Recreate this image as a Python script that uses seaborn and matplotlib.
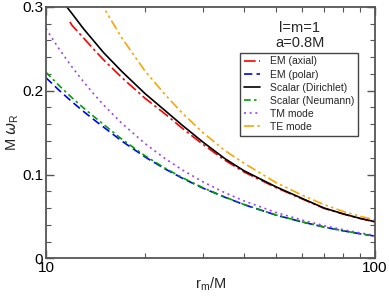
import matplotlib
matplotlib.use("Agg")
import matplotlib.pyplot as plt
import matplotlib.ticker as mticker
import seaborn as sns
import pandas as pd
import numpy as np

# r_m/M grid
r_m = [10, 11, 12, 13, 14, 15, 17, 20, 23, 26, 30, 35, 40, 50, 60, 70, 80, 90, 100]

# M omega_R
em_axial_r = [11.83, 12, 13, 14, 15, 17, 20, 23, 26, 30, 35, 40, 50, 60, 70, 80, 90, 100]
em_axial = [0.282, 0.278, 0.263, 0.249, 0.2365, 0.2157, 0.191, 0.1724, 0.155, 0.136, 0.117,
            0.103, 0.0845, 0.0710, 0.0597, 0.0529, 0.0476, 0.0436]
em_polar = [0.2155, 0.2000, 0.1868, 0.1753, 0.1653, 0.1563, 0.1400, 0.1210, 0.1068, 0.0955,
            0.0838, 0.0729, 0.0641, 0.0517, 0.0435, 0.0374, 0.0329, 0.0294, 0.0266]
scalar_dir = [0.334, 0.311, 0.292, 0.274, 0.259, 0.245, 0.223, 0.1966, 0.1764, 0.1586,
              0.1387, 0.1189, 0.1045, 0.0854, 0.0716, 0.0601, 0.0532, 0.0478, 0.0438]
scalar_neu = [0.222, 0.2056, 0.1916, 0.1795, 0.169, 0.1595, 0.1422, 0.1224, 0.1077, 0.0962,
              0.0843, 0.0732, 0.0643, 0.0518, 0.0436, 0.0375, 0.0330, 0.0295, 0.0267]
tm_mode = [0.274, 0.249, 0.2283, 0.2108, 0.1957, 0.1827, 0.1612, 0.137, 0.1191, 0.1054,
           0.0913, 0.0783, 0.0685, 0.0548, 0.0457, 0.0391, 0.0343, 0.0304, 0.0275]
te_r = [13, 14, 15, 17, 20, 23, 26, 30, 35, 40, 50, 60, 70, 80, 90, 100]
te_mode = [0.345, 0.32, 0.2986, 0.263, 0.2235, 0.1955, 0.173, 0.150, 0.1285, 0.1135,
           0.0905, 0.0755, 0.0642, 0.0560, 0.0503, 0.0459]

sns.set_style("ticks")
plt.rcParams["font.family"] = ["Liberation Sans", "DejaVu Sans"]

fig = plt.figure(figsize=(3.89, 2.96), dpi=100)
ax = fig.add_axes([0.118, 0.127, 0.846, 0.850])

series = [
    ("EM (axial)", em_axial_r, em_axial, "#ff0000", (0, (7, 2, 1.5, 2))),
    ("EM (polar)", r_m, em_polar, "#0000ff", (0, (5, 2.5))),
    ("Scalar (Dirichlet)", r_m, scalar_dir, "black", "-"),
    ("Scalar (Neumann)", r_m, scalar_neu, "#00a000", (0, (4, 2, 1.5, 2))),
    ("TM mode", r_m, tm_mode, "#a040ff", (0, (1.2, 2.2))),
    ("TE mode", te_r, te_mode, "#ffa500", (0, (6, 2, 1.5, 2, 1.5, 2))),
]

for nome, xs, ys, cor, estilo in series:
    df = pd.DataFrame({"r": xs, "w": ys})
    sns.lineplot(data=df, x="r", y="w", color=cor, linestyle=estilo, linewidth=1.2,
                 label=nome, ax=ax)

ax.set_xscale("log")
ax.set_xlim(10, 100)
ax.set_ylim(0, 0.3)
ax.set_xticks([10, 100])
ax.xaxis.set_major_formatter(mticker.FuncFormatter(lambda v, p: f"{v:g}"))
ax.xaxis.set_minor_locator(mticker.LogLocator(subs=np.arange(2, 10)))
ax.xaxis.set_minor_formatter(mticker.NullFormatter())
ax.set_yticks([0, 0.1, 0.2, 0.3])
ax.yaxis.set_major_formatter(mticker.FuncFormatter(lambda v, p: f"{v:g}"))
ax.yaxis.set_minor_locator(mticker.MultipleLocator(0.02))

ax.tick_params(which="both", direction="in", top=True, right=True, colors="#555555",
               labelcolor="black", labelsize=11)
ax.tick_params(which="major", length=6, width=1, pad=2)
ax.tick_params(which="minor", length=3.5, width=0.8)
for spine in ax.spines.values():
    spine.set_color("#555555")
    spine.set_linewidth(1.3)

ax.set_xlabel("r$_{\\mathregular{m}}$/M", fontsize=10.5, labelpad=0)
ax.set_ylabel("M $\\omega_{\\mathregular{R}}$", fontsize=10.5, labelpad=1)

ax.text(0.772, 0.887, "l=m=1\na=0.8M", transform=ax.transAxes, ha="center", va="center",
        fontsize=10.5, linespacing=1.1)

leg = ax.legend(loc="upper right", bbox_to_anchor=(0.948, 0.817), borderaxespad=0,
                fontsize=7.5, fancybox=False, framealpha=1, edgecolor="#444444",
                handlelength=1.6, handletextpad=0.9, labelspacing=0.3, borderpad=0.35)
leg.get_frame().set_linewidth(1.0)

fig.savefig("out.png", dpi=100)
